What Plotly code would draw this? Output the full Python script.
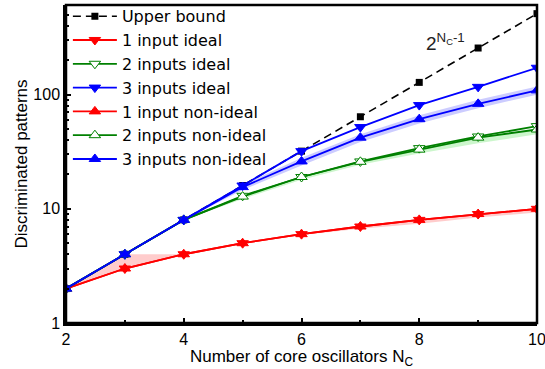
import plotly.graph_objects as go

N = [2, 3, 4, 5, 6, 7, 8, 9, 10]

upper_bound = [2, 4, 8, 16, 32, 64, 128, 256, 512]
ideal_1 = [2, 3, 4, 5, 6, 7, 8, 9, 10]
ideal_2 = [2, 4, 8, 13, 19, 26, 34, 43, 53]
ideal_3 = [2, 4, 8, 16, 32, 52, 81, 117, 172]
nonideal_1 = [2, 3, 4, 5, 6, 7, 8, 9, 10]
nonideal_2 = [2, 4, 8, 12.8, 19, 25.8, 33, 42, 49.5]
nonideal_3 = [2, 4, 8, 15.5, 26, 42, 61, 83, 109]

band1_hi = [2, 4, 4, 5, 6, 7, 8, 9, 10]
band1_lo = [2, 3, 4, 5, 5.9, 6.7, 7.4, 8.4, 9.3]
band2_hi = [2, 4, 8, 12.8, 19, 25.8, 33, 42, 49.5]
band2_lo = [2, 4, 8, 12.2, 18.0, 24.3, 30.5, 37.5, 45]
band3_hi = [2, 4, 8, 16.3, 28, 45, 66, 90, 118]
band3_lo = [2, 4, 8, 14.6, 24, 38.5, 56, 76, 100]

x_ticks = [2, 4, 6, 8, 10]
x_minor = [3, 5, 7, 9]
y_ticks = [1, 10, 100]
y_ticktext = ["1", "10", "100"]
y_minor = [2, 3, 4, 5, 6, 7, 8, 9, 20, 30, 40, 50, 60, 70, 80, 90, 200, 300, 400, 500, 600]

RED = "rgb(255,0,0)"
GREEN = "rgb(0,128,0)"
BLUE = "rgb(0,0,255)"

fig = go.Figure()

def band(lo, hi, color):
    fig.add_trace(go.Scatter(
        x=N + N[::-1], y=hi + lo[::-1], fill="toself", fillcolor=color,
        line=dict(width=0), mode="lines", showlegend=False, hoverinfo="skip"))

band(band1_lo, band1_hi, "rgba(255,0,0,0.2)")
band(band2_lo, band2_hi, "rgba(0,210,0,0.2)")
band(band3_lo, band3_hi, "rgba(0,0,255,0.2)")

fig.add_trace(go.Scatter(
    x=N, y=upper_bound, name="Upper bound", mode="lines+markers",
    line=dict(color="black", width=1.6, dash="8px,5px"),
    marker=dict(symbol="square", size=7, color="black")))

def series(y, name, color, symbol, filled):
    fig.add_trace(go.Scatter(
        x=N, y=y, name=name, mode="lines+markers",
        line=dict(color=color, width=1.8),
        marker=dict(symbol=symbol, size=10,
                    color=color if filled else "white",
                    line=dict(color=color, width=1))))

series(ideal_1, "1 input ideal", RED, "triangle-down", True)
series(ideal_2, "2 inputs ideal", GREEN, "triangle-down", False)
series(ideal_3, "3 inputs ideal", BLUE, "triangle-down", True)
series(nonideal_1, "1 input non-ideal", RED, "triangle-up", True)
series(nonideal_2, "2 inputs non-ideal", GREEN, "triangle-up", False)
series(nonideal_3, "3 inputs non-ideal", BLUE, "triangle-up", True)

fig.add_annotation(x=8.45, y=2.46, xref="x", yref="y",
                   text="2<sup>N<sub>C</sub>-1</sup>", showarrow=False,
                   font=dict(size=19, color="#222"))

FONT = "Liberation Sans, Arial, Helvetica, sans-serif"

fig.update_layout(
    width=545, height=369,
    margin=dict(l=66, r=8, t=5, b=46, autoexpand=False),
    paper_bgcolor="white", plot_bgcolor="white",
    font=dict(family=FONT, size=16, color="black"),
    showlegend=True,
    legend=dict(x=0.004, y=1.018, xanchor="left", yanchor="top",
                bgcolor="rgba(0,0,0,0)", borderwidth=0,
                font=dict(size=16, family="DejaVu Sans, sans-serif"),
                tracegroupgap=0, itemwidth=44),
)

tickstyle = dict(ticks="inside", ticklen=5, tickwidth=2, tickcolor="black",
                 showgrid=False, zeroline=False, automargin=False)

fig.update_layout(
    xaxis=dict(range=[2, 10], tickvals=x_ticks, showline=True, linewidth=2.5,
               linecolor="black", ticklabeloverflow="allow",
               minor=dict(tickvals=x_minor, ticks="inside", ticklen=3, tickwidth=2, tickcolor="black"),
               title=dict(text="Number of core oscillators N<sub>C</sub>", font=dict(size=17), standoff=2),
               tickfont=dict(size=16), **tickstyle),
    yaxis=dict(type="log", range=[0, 2.785], tickvals=y_ticks, ticktext=y_ticktext,
               showline=True, linewidth=2.5, linecolor="black",
               minor=dict(tickvals=y_minor, ticks="inside", ticklen=3, tickwidth=2, tickcolor="black"),
               title=dict(text="Discriminated patterns", font=dict(size=17), standoff=2),
               tickfont=dict(size=16), **tickstyle),
    xaxis2=dict(overlaying="x", side="top", matches="x", range=[2, 10], tickvals=x_ticks,
                showticklabels=False,
                minor=dict(tickvals=x_minor, ticks="inside", ticklen=3, tickwidth=2, tickcolor="black"),
                **tickstyle),
    yaxis2=dict(overlaying="y", side="right", type="log", range=[0, 2.785], tickvals=y_ticks,
                showticklabels=False,
                minor=dict(tickvals=y_minor, ticks="inside", ticklen=3, tickwidth=2, tickcolor="black"),
                **tickstyle),
)

fig.add_shape(type="rect", xref="paper", yref="paper", x0=0, y0=0, x1=1, y1=1,
              line=dict(color="black", width=2.5), fillcolor="rgba(0,0,0,0)", layer="above")

fig.write_html("out.html", config={"displayModeBar": False},
               post_script="document.body.style.margin='0px';")
